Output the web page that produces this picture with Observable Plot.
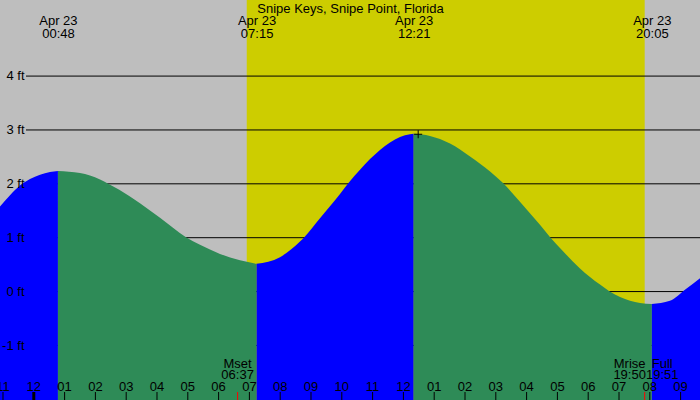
<!DOCTYPE html>
<html><head><meta charset="utf-8">
<script src="https://cdn.jsdelivr.net/npm/d3@7"></script>
<script src="https://cdn.jsdelivr.net/npm/@observablehq/plot@0.6"></script>
<style>
html,body{margin:0;padding:0;background:#bebebe;overflow:hidden;}
#chart svg{display:block;}
</style>
</head><body><div id="chart"></div>
<script>
// ---- data ----
const title = "Snipe Keys, Snipe Point, Florida";

// tide curve: hours after midnight Apr 23, height in feet
const tideHours = [-1.081, -0.756, -0.432, -0.107, 0.218, 0.542, 0.8,
  1.516, 2.166, 2.403, 2.79, 3.464, 4.114, 4.958, 5.412, 6.062, 6.711, 7.25,
  8.009, 8.659, 8.799, 9.308, 9.958, 10.24, 10.607, 10.932, 11.256, 11.581, 11.906, 12.23, 12.35,
  12.88, 13.53, 14.18, 14.83, 15.26, 15.80, 16.45, 16.78, 17.10, 17.75, 18.40, 18.69, 19.05, 19.70, 20.083,
  20.67, 21.19, 21.646];
const tideFeet = [1.57, 1.78, 1.96, 2.08, 2.16, 2.21, 2.23,
  2.19, 2.07, 2.00, 1.88, 1.63, 1.36, 1.00, 0.86, 0.69, 0.57, 0.505,
  0.63, 0.92, 1.00, 1.35, 1.80, 2.01, 2.25, 2.45, 2.62, 2.76, 2.86, 2.91, 2.92,
  2.88, 2.74, 2.50, 2.22, 2.00, 1.66, 1.23, 1.00, 0.80, 0.42, 0.12, 0.00, -0.11, -0.22, -0.24,
  -0.18, 0.04, 0.24];

// high / low tide events
const eventHours = [0.8, 7.25, 12.35, 20.083];
const eventDates = ["Apr 23", "Apr 23", "Apr 23", "Apr 23"];
const eventTimes = ["00:48", "07:15", "12:21", "20:05"];
const maxHour = 12.35, maxFeet = 2.92;

// daylight
const sunriseHour = 6.93, sunsetHour = 19.85;

// moon events
const moonHours = [6.617, 19.833, 19.85];
const moonNames = ["Mset", "Mrise", "Full"];
const moonTimes = ["06:37", "19:50", "19:51"];
const moonShift = [0, -15, 17];   // label offsets so the evening labels do not collide

// axes
const levels = [-1, 0, 1, 2, 3, 4];
const levelLabels = ["-1 ft", "0 ft", "1 ft", "2 ft", "3 ft", "4 ft"];
const tickHours = [-1,0,1,2,3,4,5,6,7,8,9,10,11,12,13,14,15,16,17,18,19,20,21];
const hourLabels = ["11","12","01","02","03","04","05","06","07","08","09","10","11","12","01","02","03","04","05","06","07","08","09"];
const midnightHours = [0];

// ---- build ----
const xDomain = [-1.081, 21.646];
const yDomain = [-2.022, 5.403];
const colors = {grey: "#bebebe", day: "#cdcd00", rise: "#0000ff", fall: "#2e8b57"};

const pts = tideHours.map((t, i) => ({t, h: tideFeet[i]}));
const bounds = [xDomain[0] - 1, ...eventHours, xDomain[1] + 1];
const segments = [];
for (let s = 0; s < bounds.length - 1; s++) {
  const rows = pts.filter(p => p.t >= bounds[s] - 1e-6 && p.t <= bounds[s + 1] + 1e-6);
  if (rows.length < 2) continue;
  const rising = rows[rows.length - 1].h > rows[0].h;
  segments.push({rows, color: rising ? colors.rise : colors.fall});
}

const font = "Liberation Sans, Arial, sans-serif";
const fs = 13;

const moonRows = moonHours.map((t, i) => ({t, name: moonNames[i], time: moonTimes[i], shift: moonShift[i]}));
const moonText = (key, dy) => moonRows.map(r => Plot.text([r], {x: "t", frameAnchor: "bottom", text: key,
  lineAnchor: "bottom", dy, dx: r.shift, fill: "black", fontSize: fs}));

const chart = Plot.plot({
  width: 700, height: 400,
  marginTop: 0, marginBottom: 0, marginLeft: 0, marginRight: 0,
  x: {domain: xDomain, axis: null},
  y: {domain: yDomain, axis: null},
  style: {background: colors.grey, fontFamily: font, fontSize: fs + "px", color: "black"},
  marks: [
    Plot.rect([{a: sunriseHour, b: sunsetHour}], {x1: "a", x2: "b", fill: colors.day}),
    Plot.ruleY(levels, {stroke: "black", strokeWidth: 1, insetLeft: 26}),
    ...segments.map(s => Plot.areaY(s.rows, {x: "t", y1: yDomain[0], y2: "h", fill: s.color, curve: "monotone-x"})),
    Plot.text(levels, {x: () => xDomain[0], y: d => d, text: (d, i) => levelLabels[i], textAnchor: "end", dx: 24, fill: "black", fontSize: fs}),
    Plot.text([title], {frameAnchor: "top", text: d => d, lineAnchor: "bottom", dy: 12, fill: "black", fontSize: fs}),
    Plot.text(eventHours, {x: d => d, frameAnchor: "top", text: (d, i) => eventDates[i], lineAnchor: "bottom", dy: 24, fill: "black", fontSize: fs}),
    Plot.text(eventHours, {x: d => d, frameAnchor: "top", text: (d, i) => eventTimes[i], lineAnchor: "bottom", dy: 37, fill: "black", fontSize: fs}),
    Plot.ruleX(tickHours, {stroke: "black", strokeWidth: 1, insetTop: 392}),
    Plot.ruleX(midnightHours, {stroke: "black", strokeWidth: 3, insetTop: 392}),
    Plot.ruleX(moonHours.slice(0, 2), {stroke: "red", strokeWidth: 1, insetTop: 392}),
    Plot.text(tickHours, {x: d => d, frameAnchor: "bottom", text: (d, i) => hourLabels[i], lineAnchor: "bottom", dy: -10, fill: "black", fontSize: fs}),
    ...moonText("name", -33),
    ...moonText("time", -22),
    Plot.dot([{t: maxHour, h: maxFeet}], {x: "t", y: "h", r: 4, dx: 4, stroke: "black", strokeWidth: 1, fill: "none",
      symbol: {draw(ctx, size) { const a = Math.sqrt(size / Math.PI); ctx.moveTo(-a, 0); ctx.lineTo(a, 0); ctx.moveTo(0, -a); ctx.lineTo(0, a); }}})
  ]
});
document.getElementById("chart").appendChild(chart);
</script>
</body></html>
